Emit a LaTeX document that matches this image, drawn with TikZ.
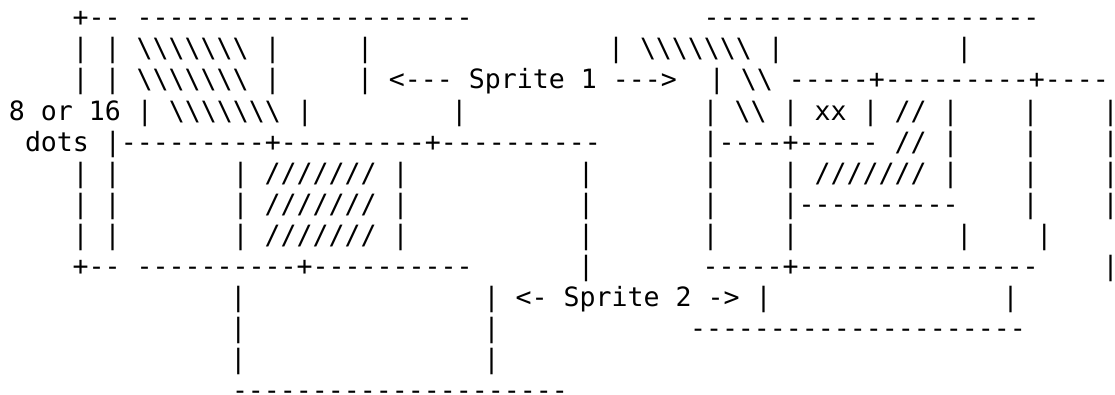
\documentclass[tikz,border=0pt]{standalone}
\usepackage{fontspec}
\setmonofont{DejaVu Sans Mono}
\newcommand\bsl{\textbackslash}
\newcommand\bsrun{\bsl\bsl\bsl\bsl\bsl\bsl\bsl}
\newcommand\edgebar{\makebox[8pt][l]{|}}
\tikzset{
  ascii/.style={anchor=base west, inner sep=0pt, outer sep=0pt,
    font=\ttfamily\fontsize{26.57}{31.1}\selectfont}
}
\begin{document}
\begin{tikzpicture}[x=1pt,y=1pt]
    \useasboundingbox (0,0) rectangle (1115,-394);

    % 第0行：上边框
    \node[ascii] (r0a) at (72.7,-26.7) {+--};
    \node[ascii] (r0b) at (136.7,-26.7) {---------------------};
    \node[ascii] (r0c) at (703.5,-26.7) {---------------------};

    % 第1行
    \node[ascii] (r1a) at (72.7,-57.8) {|~|~\bsrun~|};
    \node[ascii] (r1b) at (357,-57.8) {|};
    \node[ascii] (r1c) at (608,-57.8) {|~\bsrun~|};
    \node[ascii] (r1d) at (956.3,-57.8) {|};

    % 第2行：Sprite 1
    \node[ascii] (r2a) at (72.7,-88.9) {|~|~\bsrun~|};
    \node[ascii] (r2b) at (357,-88.9) {|~<---~Sprite~1~--->~~|~\bsl\bsl~-----+---------+----};

    % 第3行
    \node[ascii] (r3a) at (9,-120) {8~or~16~|~\bsrun~|};
    \node[ascii] (r3b) at (451.3,-120) {|};
    \node[ascii] (r3c) at (702.7,-120) {|~\bsl\bsl~|~xx~|~//~|~~~~|};
    \node[ascii] (r3d) at (1102.7,-120) {\edgebar};

    % 第4行
    \node[ascii] (r4a) at (25,-151.1) {dots~|---------+---------+----------};
    \node[ascii] (r4b) at (702.7,-151.1) {|----+-----~//~|~~~~|};
    \node[ascii] (r4c) at (1102.7,-151.1) {\edgebar};

    % 第5-7行
    \node[ascii] (r5a) at (72.7,-182.2) {|~|~~~~~~~|~///////~|};
    \node[ascii] (r5b) at (578,-182.2) {|};
    \node[ascii] (r5c) at (702.7,-182.2) {|~~~~|~///////~|~~~~|};
    \node[ascii] (r5d) at (1102.7,-182.2) {\edgebar};

    \node[ascii] (r6a) at (72.7,-213.3) {|~|~~~~~~~|~///////~|};
    \node[ascii] (r6b) at (578,-213.3) {|};
    \node[ascii] (r6c) at (702.7,-213.3) {|~~~~|----------~~~~|};
    \node[ascii] (r6d) at (1102.7,-213.3) {\edgebar};

    \node[ascii] (r7a) at (72.7,-244.4) {|~|~~~~~~~|~///////~|};
    \node[ascii] (r7b) at (578,-244.4) {|};
    \node[ascii] (r7c) at (702.7,-244.4) {|~~~~|};
    \node[ascii] (r7d) at (956.3,-244.4) {|~~~~|};

    % 第8行
    \node[ascii] (r8a) at (72.7,-275.5) {+--~----------+----------};
    \node[ascii] (r8b) at (578,-275.5) {|};
    \node[ascii] (r8c) at (702.7,-275.5) {-----+---------------};
    \node[ascii] (r8d) at (1102.7,-275.5) {\edgebar};

    % 第9行：Sprite 2
    \node[ascii] (r9a) at (230.3,-306.6) {|};
    \node[ascii] (r9b) at (483.7,-306.6) {|~<-~Sprite~2~->~|};
    \node[ascii] (r9c) at (1002.7,-306.6) {|};

    % 第10-12行
    \node[ascii] (r10a) at (230.3,-337.7) {|};
    \node[ascii] (r10b) at (483.7,-337.7) {|};
    \node[ascii] (r10c) at (690,-337.7) {---------------------};

    \node[ascii] (r11a) at (230.3,-368.8) {|};
    \node[ascii] (r11b) at (483.7,-368.8) {|};

    % 底边：基线在图外，盒子压到图内
    \node[ascii] (r12a) at (232,-392) {\raisebox{-7.9pt}[0pt][0pt]{---------------------}};
\end{tikzpicture}
\end{document}
